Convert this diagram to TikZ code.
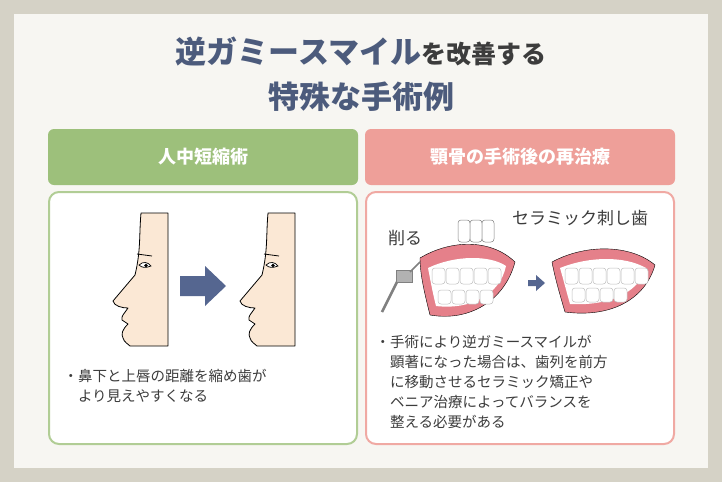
\documentclass[tikz,border=0pt]{standalone}
\usepackage{fontspec}
\setmainfont{Noto Sans CJK JP}
\definecolor{frameC}{HTML}{D5D2C6}
\definecolor{paperC}{HTML}{F7F6F2}
\definecolor{navyC}{HTML}{4C5B7C}
\definecolor{textC}{HTML}{3C3C3C}
\definecolor{greenC}{HTML}{9DC07B}
\definecolor{pinkC}{HTML}{EE9F99}
\definecolor{skinC}{HTML}{FBE8D5}
\definecolor{gumC}{HTML}{E5808A}
\definecolor{arrowC}{HTML}{556690}
\begin{document}
\begin{tikzpicture}
	[x=1pt,y=-1pt,
	header/.style={rounded corners=6pt,minimum width=310pt,minimum height=56pt,text=white,font=\fontsize{18}{21}\selectfont\bfseries},
	panel/.style={rounded corners=10pt,line width=2pt,fill=white},
	body/.style={anchor=north west,align=left,text=textC,font=\fontsize{14.5}{20}\selectfont},
	face/.style={fill=skinC,draw=black,line width=0.8pt,line join=round},
	tooth/.style={fill=white,draw=gray!50,line width=0.5pt,rounded corners=3pt}]
	\useasboundingbox (0,0) rectangle (722,482);
	\fill[frameC] (0,0) rectangle (722,482);
	\fill[paperC] (14,14) rectangle (708,468);
	% title
	\node[font=\fontsize{31}{35}\selectfont\bfseries] (title1) at (361,52)
		{\textcolor{navyC}{逆ガミースマイル}\textcolor{textC}{\fontsize{25}{30}\selectfont を改善する}};
	\node[font=\fontsize{31}{35}\selectfont\bfseries,text=navyC] (title2) at (361,97) {特殊な手術例};
	% headers
	\node[header,fill=greenC] (lhead) at (203,157) {人中短縮術};
	\node[header,fill=pinkC] (rhead) at (520,157) {顎骨の手術後の再治療};
	% panels
	\draw[panel,draw=greenC!80] (49,192) rectangle (357,444);
	\draw[panel,draw=pinkC!90] (366,192) rectangle (674,444);
	% faces
	\foreach \dx in {0,127}
	{
		\begin{scope}[xshift=\dx]
			\draw[face] (168,213) -- (141,213) .. controls (139,235) and (141,250) .. (135,275)
				-- (113,301) .. controls (114,306) and (122,308) .. (128,308)
				.. controls (124,314) and (121,316) .. (122,320) -- (128,324)
				.. controls (122,330) and (121,334) .. (123,338)
				.. controls (124,342) and (128,344) .. (130,346) -- (168,346) -- cycle;
			\draw[line width=0.8pt] (137,254) -- (152,256);
			\draw[line width=0.7pt,fill=white] (139,265) .. controls (143,261) and (148,262) .. (151,266) .. controls (146,268) and (142,268) .. cycle;
			\fill (146,265.5) circle (1.8pt);
		\end{scope}
	}
	\fill[arrowC] (180,276) -- (205,276) -- (205,266) -- (226,286) -- (205,306) -- (205,296) -- (180,296) -- cycle;
	\node[body] (ltext) at (60,366) {・鼻下と上唇の距離を縮め歯が\\\hspace{1em}より見えやすくなる};
	% right: teeth before
	\draw[fill=gumC] (420,258) .. controls (450,240) and (490,238) .. (515,262)
		.. controls (505,300) and (470,322) .. (430,315) .. controls (425,295) and (420,275) .. cycle;
	\fill[white] (428,268) .. controls (455,255) and (490,255) .. (506,266)
		.. controls (500,295) and (470,310) .. (436,306) .. controls (432,290) and (430,278) .. cycle;
	\foreach \x in {432,446,460,474,488}
		\draw[tooth] (\x,268) rectangle ++(13,16);
	\foreach \x in {438,452,466,480}
		\draw[tooth] (\x,290) rectangle ++(13,14);
	\draw[line width=2.5pt,gray] (382,312) -- (398,280);
	\draw[fill=gray!60,draw=gray] (396,270) rectangle (412,282);
	\draw[gray,line width=1.5pt] (410,272) -- (420,262);
	% ceramic crowns
	\foreach \x in {458,470,482}
		\draw[tooth,draw=gray] (\x,220) rectangle ++(12,22);
	\node[font=\fontsize{17}{20}\selectfont,text=textC] (crown) at (580,218) {セラミック刺し歯};
	\node[font=\fontsize{17}{20}\selectfont,text=textC] (cut) at (405,238) {削る};
	\fill[arrowC] (528,280) -- (536,280) -- (536,275) -- (545,283) -- (536,291) -- (536,286) -- (528,286) -- cycle;
	% right: teeth after
	\draw[fill=gumC] (552,262) .. controls (585,244) and (630,244) .. (655,265)
		.. controls (645,300) and (610,318) .. (565,312) .. controls (560,295) and (555,278) .. cycle;
	\fill[white] (560,268) .. controls (590,256) and (625,256) .. (646,268)
		.. controls (638,295) and (605,306) .. (570,304) .. controls (566,290) and (563,278) .. cycle;
	\foreach \x in {565,579,593,607,621,635}
		\draw[tooth] (\x,268) rectangle ++(13,16);
	\foreach \x in {572,586,600,614}
		\draw[tooth] (\x,288) rectangle ++(13,14);
	\node[body] (rtext) at (372,332) {・手術により逆ガミースマイルが\\\hspace{1em}顕著になった場合は、歯列を前方\\\hspace{1em}に移動させるセラミック矯正や\\\hspace{1em}ベニア治療によってバランスを\\\hspace{1em}整える必要がある};
\end{tikzpicture}
\end{document}
